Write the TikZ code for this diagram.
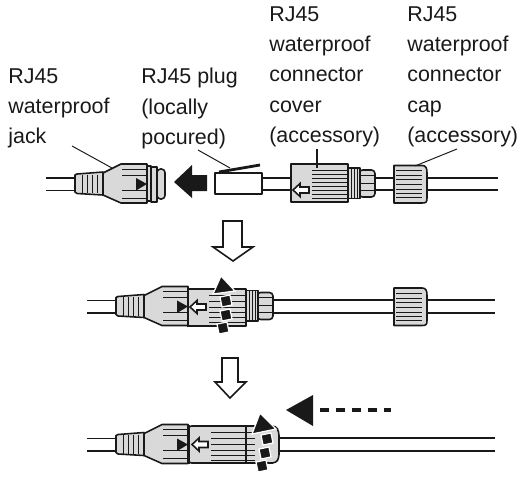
\documentclass[tikz,border=0pt]{standalone}
\usepackage{fontspec}
\setmainfont{Liberation Sans}
\definecolor{partgray}{gray}{0.85}
\definecolor{inkblack}{gray}{0.1}
\tikzset{
    label text/.style={anchor=north west, inner sep=0pt, align=left, text=inkblack, font=\fontsize{12.2}{17.3}\selectfont},
    part/.style={draw=inkblack, fill=partgray, line width=0.9pt, line join=round},
    wire/.style={draw=inkblack, line width=0.95pt},
    fine/.style={draw=inkblack, line width=0.5pt},
    leader/.style={draw=inkblack, line width=0.55pt},
    hollow/.style={draw=inkblack, fill=white, line width=0.9pt, line join=miter},
    solid tip/.style={fill=inkblack},
    halo tip/.style={fill=inkblack, draw=white, line width=0.7pt, line join=miter},
    dotsq/.style={fill=inkblack, draw=white, line width=0.7pt, inner sep=0pt, minimum size=5.8pt, rotate=12},
    strain/.pic={
        \draw[wire] (-29,-6) -- (0,-6); \draw[wire] (-29,6.5) -- (0,6.5);
        \draw[part] (0,-9) -- (2,-10) -- (28,-12) -- (28,11) -- (2,9.5) -- (0,8) -- cycle;
        \foreach \ribx in {7,12,17,22} \draw[fine] (\ribx,-9.5) -- (\ribx,9);
        \draw[part] (28,-11) -- (46,-20) -- (72,-20) -- (72,19) -- (46,19) -- (28,11) -- cycle;
        \foreach \liney in {-15,-9,6,14} \draw[fine] (47,\liney) -- (72,\liney);
        \fill[solid tip] (61,-6) -- (72,0) -- (61,6.5) -- cycle;
    },
    ribs/.pic={
        \draw[part, rounded corners=2] (11,-14) -- (27,-14) -- (27,13) -- (11,13) -- cycle;
        \draw[part] (0,-16) rectangle (12,14.5);
        \foreach \ribx in {3,6,9} \draw[fine] (\ribx,-16) -- (\ribx,14.5);
        \foreach \liney in {-9,-1,6} \draw[fine] (12,\liney) -- (27,\liney);
    },
    endcap/.pic={
        \draw[part] (0,-18.5) -- (28,-18.5) .. controls (32,-18.5) and (33,-16) .. (33,-11) -- (33,14) .. controls (33,18) and (32,19) .. (28,19) -- (0,19) -- cycle;
        \foreach \liney in {-13.5,-8.5,-4.5,0.5,5.5,9.5,13.5} \draw[fine] (2,\liney) -- (28,\liney);
    },
    pointer/.pic={
        \draw[hollow] (0,0) -- (7,-6.5) -- (7,-3) -- (16,-3) -- (16,3) -- (7,3) -- (7,6.5) -- cycle;
    },
}
\begin{document}
\begin{tikzpicture}[x=0.02cm, y=-0.02cm]
    \useasboundingbox (0,0) rectangle (530,477);
    % Labels
    \node[label text] (jacklabel) at (8,68) {RJ45\\waterproof\\jack};
    \node[label text] (pluglabel) at (141,68) {RJ45 plug\\(locally\\pocured)};
    \node[label text] (coverlabel) at (269,6) {RJ45\\waterproof\\connector\\cover\\(accessory)};
    \node[label text] (caplabel) at (407,6) {RJ45\\waterproof\\connector\\cap\\(accessory)};
    % Top row, parts apart
    \pic at (75,184) {strain};
    \draw[part] (147,166) -- (151,166) -- (151,201) -- (147,201) -- cycle;
    \draw[part] (151,167) rectangle (157,202);
    \draw[part, rounded corners=2] (157,169) -- (165,169) -- (165,199) -- (157,199) -- cycle;
    \fill[solid tip] (174,182) -- (192,165) -- (192,175) -- (207,175) -- (207,191) -- (192,191) -- (192,198) -- cycle;
    \draw[wire] (262,178) -- (291,178); \draw[wire] (262,190) -- (291,190);
    \draw[part, fill=white] (215,173) rectangle (262,194);
    \draw[draw=inkblack, line width=1.6pt] (219,172) -- (260,165);
    \draw[part] (291,164) rectangle (348,202);
    \foreach \liney in {170,174,178,182,186,190,194,198} \draw[fine] (312,\liney) -- (348,\liney);
    \pic at (293,190) {pointer};
    \pic at (348,184) {ribs};
    \draw[wire] (375,178) -- (395,178); \draw[wire] (375,190) -- (395,190);
    \pic at (394,184) {endcap};
    \draw[wire] (427,178) -- (498,178); \draw[wire] (427,190) -- (498,190);
    % Leader lines
    \coordinate (jackfrom) at (72,146); \coordinate (jackto) at (112,168);
    \coordinate (plugfrom) at (198,150); \coordinate (plugto) at (230,168);
    \coordinate (coverfrom) at (317,149); \coordinate (coverto) at (317,168);
    \coordinate (capfrom) at (457,149); \coordinate (capto) at (415,166);
    \draw[leader] (jackfrom) -- (jackto);
    \draw[leader] (plugfrom) -- (plugto);
    \draw[leader, line width=0.9pt] (coverfrom) -- (coverto);
    \draw[leader] (capfrom) -- (capto);
    % Down arrows
    \draw[hollow] (223,221) -- (242,221) -- (242,247) -- (253,247) -- (233,261) -- (213,247) -- (223,247) -- cycle;
    \draw[hollow] (222,358) -- (238,358) -- (238,382) -- (246,382) -- (230,398) -- (215,382) -- (222,382) -- cycle;
    % Middle row
    \pic at (116,306.5) {strain};
    \draw[part] (188,289) rectangle (246,326);
    \foreach \liney in {295,301,307,312,317,322} \draw[fine] (209,\liney) -- (246,\liney);
    \draw[draw=inkblack, line width=1.1pt] (188,288) -- (188,327);
    \pic at (190,307) {pointer};
    \pic at (246,306.5) {ribs};
    \draw[wire] (273,300) -- (394,300); \draw[wire] (273,313) -- (394,313);
    \pic at (394,306.5) {endcap};
    \draw[wire] (427,300) -- (495,300); \draw[wire] (427,313) -- (495,313);
    \draw[halo tip] (221,276) -- (235,291) -- (213,294) -- cycle;
    \node[dotsq] (midsqa) at (226,301) {};
    \node[dotsq] (midsqb) at (226,315) {};
    \node[dotsq] (midsqc) at (223,328) {};
    % Bottom row
    \pic at (116,444.5) {strain};
    \draw[part, rounded corners=2] (188,426) -- (276,426) -- (279,432) -- (279,458) -- (276,463) -- (188,463) -- cycle;
    \foreach \liney in {432,438,444,450,455,460} \draw[fine] (211,\liney) -- (255,\liney);
    \draw[draw=inkblack, line width=1.1pt] (189,425) -- (189,464);
    \draw[draw=inkblack, line width=1.3pt] (246,426) -- (246,463);
    \pic at (192,444.5) {pointer};
    \draw[wire] (279,438) -- (495,438); \draw[wire] (279,451) -- (495,451);
    \draw[halo tip] (260,413) -- (276,429) -- (252,434) -- cycle;
    \node[dotsq] (lowsqa) at (267,439) {};
    \node[dotsq] (lowsqb) at (265,453) {};
    \node[dotsq] (lowsqc) at (262,466) {};
    % Slide arrow
    \fill[solid tip] (286,410) -- (313,395) -- (313,426) -- cycle;
    \draw[draw=inkblack, line width=2pt, dash pattern=on 5.1pt off 4pt] (320,410) -- (391,410);
\end{tikzpicture}
\end{document}
